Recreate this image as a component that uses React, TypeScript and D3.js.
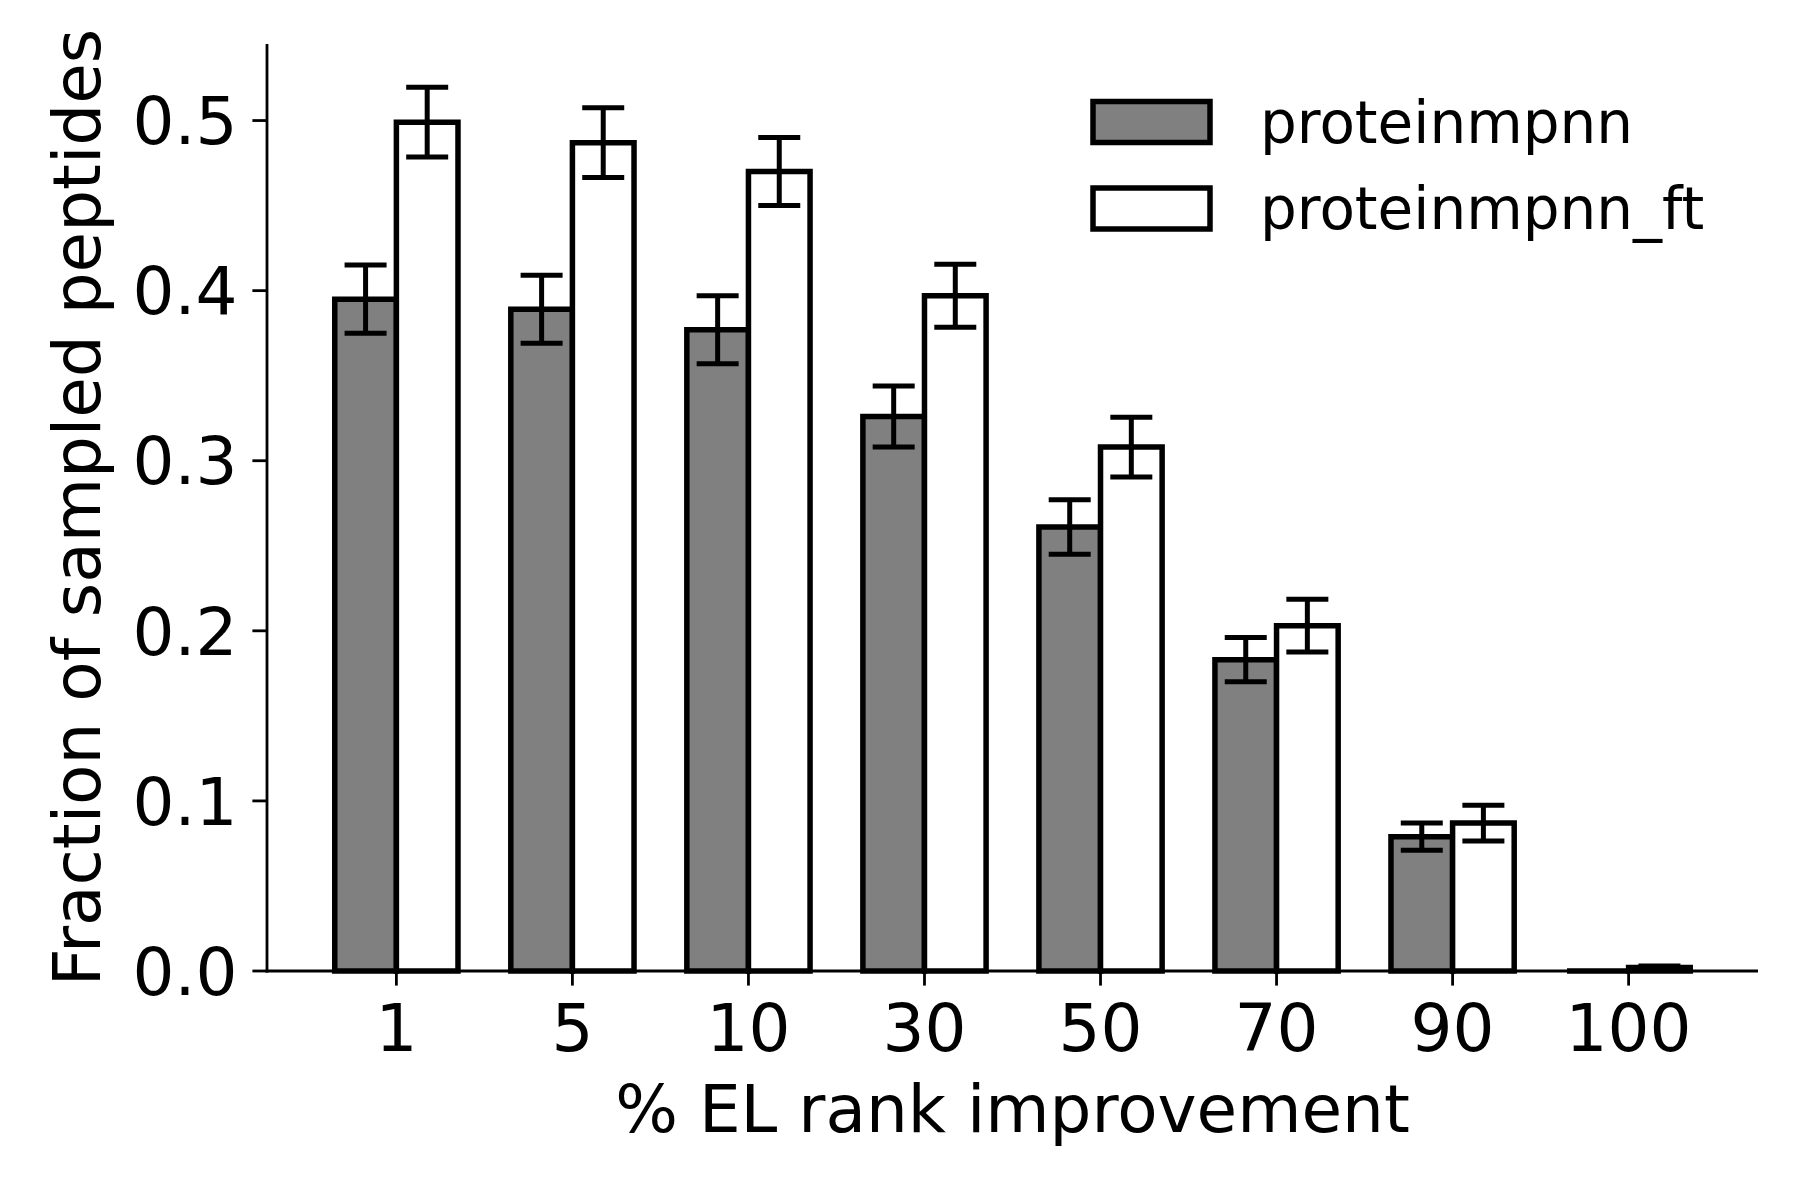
import * as d3 from 'd3'

// % EL rank improvement thresholds
const CATEGORIES = ['1', '5', '10', '30', '50', '70', '90', '100']
const SERIES = ['proteinmpnn', 'proteinmpnn_ft']
const BASE_VALUES = [0.395, 0.389, 0.377, 0.326, 0.261, 0.183, 0.079, 0.0]
const BASE_ERR = [0.02, 0.02, 0.02, 0.018, 0.016, 0.013, 0.008, 0.0]
const FT_VALUES = [0.499, 0.487, 0.47, 0.397, 0.308, 0.203, 0.087, 0.002]
const FT_ERR = [0.0205, 0.0205, 0.02, 0.0185, 0.0175, 0.0155, 0.0105, 0.001]
const Y_TICKS = [0, 0.1, 0.2, 0.3, 0.4, 0.5]

const FILLS = ['#808080', '#ffffff']
const FONT = '"DejaVu Sans", sans-serif'

export default function App() {
  const width = 1800
  const height = 1200
  const left = 267
  const right = 1758
  const top = 44
  const bottom = 971
  const barW = 0.35

  const x = d3.scaleLinear().domain([-0.735, 7.735]).range([left, right])
  const y = d3.scaleLinear().domain([0, 0.545]).range([bottom, top])
  const fmt = d3.format('.1f')
  const tickLen = 14.6
  const capHalf = 21

  const series = [
    { values: BASE_VALUES, err: BASE_ERR, offset: -barW / 2 },
    { values: FT_VALUES, err: FT_ERR, offset: barW / 2 },
  ]

  return (
    <svg
      width={width}
      height={height}
      viewBox={`0 0 ${width} ${height}`}
      style={{ position: 'absolute', left: 0, top: 0, background: '#fff' }}
      fontFamily={FONT}
    >
      {series.map((s, si) => (
        <g key={si}>
          {s.values.map((v, i) => {
            const cx = i + s.offset
            const x0 = x(cx - barW / 2)
            const x1 = x(cx + barW / 2)
            // path so that zero-height bars still show their edge
            const p = d3.path()
            p.moveTo(x0, y(0))
            p.lineTo(x0, y(v))
            p.lineTo(x1, y(v))
            p.lineTo(x1, y(0))
            p.closePath()
            return (
              <path
                key={i}
                d={p.toString()}
                fill={FILLS[si]}
                stroke="#000"
                strokeWidth={5.5}
                strokeLinejoin="miter"
              />
            )
          })}
          {s.values.map((v, i) => {
            const e = s.err[i]
            if (e === 0) return null
            const px = x(i + s.offset)
            return (
              <g key={'e' + i} stroke="#000" strokeWidth={5}>
                <line x1={px} x2={px} y1={y(v - e)} y2={y(v + e)} />
                <line x1={px - capHalf} x2={px + capHalf} y1={y(v - e)} y2={y(v - e)} />
                <line x1={px - capHalf} x2={px + capHalf} y1={y(v + e)} y2={y(v + e)} />
              </g>
            )
          })}
        </g>
      ))}

      {/* spines */}
      <line x1={left} x2={left} y1={top} y2={bottom + 1.4} stroke="#000" strokeWidth={2.8} />
      <line x1={left - 1.4} x2={right} y1={bottom} y2={bottom} stroke="#000" strokeWidth={2.8} />

      {/* y axis */}
      {Y_TICKS.map((t) => (
        <g key={t}>
          <line x1={left - tickLen} x2={left} y1={y(t)} y2={y(t)} stroke="#000" strokeWidth={2.8} />
          <text
            x={left - tickLen - 15}
            y={y(t)}
            dy="0.36em"
            textAnchor="end"
            fontSize={66}
          >
            {fmt(t)}
          </text>
        </g>
      ))}

      {/* x axis */}
      {CATEGORIES.map((c, i) => (
        <g key={c}>
          <line x1={x(i)} x2={x(i)} y1={bottom} y2={bottom + tickLen} stroke="#000" strokeWidth={2.8} />
          <text x={x(i)} y={1051} textAnchor="middle" fontSize={66}>
            {c}
          </text>
        </g>
      ))}

      <text x={(left + right) / 2} y={1132} textAnchor="middle" fontSize={66}>
        % EL rank improvement
      </text>
      <text
        transform={`translate(100, ${(top + bottom) / 2}) rotate(-90)`}
        textAnchor="middle"
        fontSize={66}
      >
        Fraction of sampled peptides
      </text>

      {/* legend */}
      {SERIES.map((name, i) => {
        const cy = 122 + i * 86.5
        return (
          <g key={name}>
            <rect
              x={1093}
              y={cy - 20.5}
              width={117}
              height={41}
              fill={FILLS[i]}
              stroke="#000"
              strokeWidth={5.5}
            />
            <text x={1260} y={cy} dy="0.36em" fontSize={58}>
              {name}
            </text>
          </g>
        )
      })}
    </svg>
  )
}
